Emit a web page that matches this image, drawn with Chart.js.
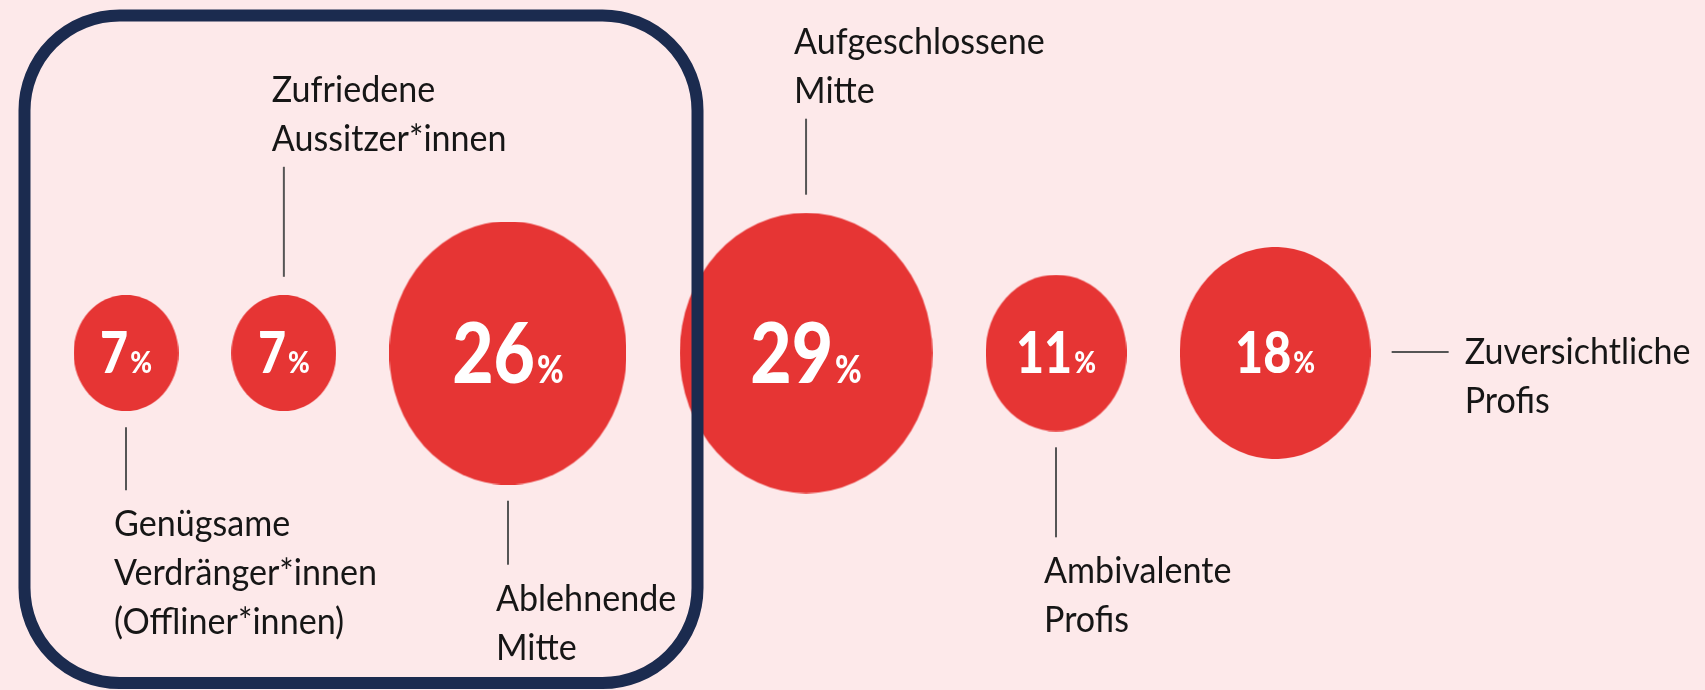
<!DOCTYPE html>
<html>
<head>
<meta charset="utf-8">
<script src="https://cdn.jsdelivr.net/npm/chart.js@4.4.1/dist/chart.umd.min.js"></script>
<style>
  html, body { margin: 0; padding: 0; background: #fde9ea; }
  #wrap { width: 1705px; height: 690px; }
</style>
</head>
<body>
<div id="wrap"><canvas id="chart" width="1705" height="690"></canvas></div>
<script>
const categories = [
  ['Genügsame', 'Verdränger*innen', '(Offliner*innen)'],
  ['Zufriedene', 'Aussitzer*innen'],
  ['Ablehnende', 'Mitte'],
  ['Aufgeschlossene', 'Mitte'],
  ['Ambivalente', 'Profis'],
  ['Zuversichtliche', 'Profis']
];
const shares = [7, 7, 26, 29, 11, 18];
const valueLabels = ['7', '7', '26', '29', '11', '18'];

// label placement around each bubble
const labelSide = ['below', 'above', 'below', 'above', 'below', 'right'];
const leaderLength = [63, 110, 64, 76, 90, 57];

const RED = '#e63534';
const NAVY = '#1b2b4f';
const INK = '#161616';
const STRETCH = 1.11; // bubbles are slightly taller than wide
const FONT = 'Lato, "Liberation Sans", sans-serif';

const radiusOf = (v) => 27 * Math.sqrt(v) - 19;

// pack the bubbles side by side with an even gap
const points = [];
shares.forEach((v, i) => {
  const r = radiusOf(v);
  let x = 126;
  if (i > 0) {
    const prev = points[i - 1];
    x = prev.x + prev.r + 53 + r;
  }
  points.push({ x, y: 0, r });
});

const ellipseCache = {};
function ellipseFor(r) {
  const key = r.toFixed(2);
  if (!ellipseCache[key]) {
    const rx = r;
    const ry = r * STRETCH;
    const c = document.createElement('canvas');
    c.width = Math.round(rx * 2);
    c.height = Math.round(ry * 2);
    const g = c.getContext('2d');
    g.fillStyle = RED;
    g.beginPath();
    g.ellipse(c.width / 2, c.height / 2, rx, ry, 0, 0, Math.PI * 2);
    g.fill();
    ellipseCache[key] = c;
  }
  return ellipseCache[key];
}

function drawScaled(ctx, text, x, y, sx) {
  ctx.save();
  ctx.translate(x, y);
  ctx.scale(sx, 1);
  ctx.fillText(text, 0, 0);
  ctx.restore();
}

function drawValue(ctx, cx, cy, text, big) {
  const digitSize = big ? 84 : 57;
  const pctSize = big ? 38 : 31;
  const sx = 0.85;
  ctx.fillStyle = '#ffffff';
  ctx.textAlign = 'left';
  ctx.textBaseline = 'alphabetic';
  ctx.font = `900 ${digitSize}px ${FONT}`;
  const wd = ctx.measureText(text).width * sx;
  ctx.font = `900 ${pctSize}px ${FONT}`;
  const wp = ctx.measureText('%').width * sx;
  const gap = 2;
  const left = cx - (wd + gap + wp) / 2;
  const baseline = cy + digitSize * 0.716 / 2;
  ctx.font = `900 ${digitSize}px ${FONT}`;
  drawScaled(ctx, text, left, baseline, sx);
  ctx.font = `900 ${pctSize}px ${FONT}`;
  drawScaled(ctx, '%', left + wd + gap, baseline, sx);
}

const labelsPlugin = {
  id: 'bubbleLabels',
  afterDatasetsDraw(chart) {
    const ctx = chart.ctx;
    const meta = chart.getDatasetMeta(0);
    const lineH = 49;

    ctx.save();
    ctx.font = `36px ${FONT}`;
    const textSx = 263 / ctx.measureText('Verdränger*innen').width;

    meta.data.forEach((el, i) => {
      const cx = el.x;
      const cy = el.y;
      const rx = radiusOf(shares[i]);
      const ry = rx * STRETCH;
      drawValue(ctx, cx, cy, valueLabels[i], rx > 110);

      const lines = categories[i];
      const len = leaderLength[i];
      ctx.strokeStyle = '#555555';
      ctx.lineWidth = 2;
      ctx.fillStyle = INK;
      ctx.font = `36px ${FONT}`;
      ctx.textAlign = 'left';
      ctx.textBaseline = 'alphabetic';
      ctx.beginPath();
      if (labelSide[i] === 'below') {
        const y0 = cy + ry + 16;
        ctx.moveTo(cx, y0);
        ctx.lineTo(cx, y0 + len);
        ctx.stroke();
        lines.forEach((t, k) => drawScaled(ctx, t, cx - 12, y0 + len + 46 + k * lineH, textSx));
      } else if (labelSide[i] === 'above') {
        const y0 = cy - ry - 18;
        ctx.moveTo(cx, y0);
        ctx.lineTo(cx, y0 - len);
        ctx.stroke();
        const last = y0 - len - 16;
        lines.forEach((t, k) => drawScaled(ctx, t, cx - 12, last - (lines.length - 1 - k) * lineH, textSx));
      } else {
        const x0 = cx + rx + 21;
        ctx.moveTo(x0, cy - 1);
        ctx.lineTo(x0 + len, cy - 1);
        ctx.stroke();
        lines.forEach((t, k) => drawScaled(ctx, t, x0 + len + 16, cy + 11 + k * lineH, textSx));
      }
    });

    // highlight frame around the first three groups
    const box = { left: 24.5, top: 15.5, right: 697.5, bottom: 683, radius: 95 };
    ctx.strokeStyle = NAVY;
    ctx.lineWidth = 12;
    ctx.beginPath();
    ctx.roundRect(box.left, box.top, box.right - box.left, box.bottom - box.top, box.radius);
    ctx.stroke();
    ctx.restore();
  }
};

new Chart(document.getElementById('chart'), {
  type: 'bubble',
  data: {
    datasets: [{
      data: points,
      backgroundColor: RED,
      borderWidth: 0,
      pointStyle: (c) => ellipseFor(c.raw.r),
      clip: false
    }]
  },
  options: {
    responsive: false,
    animation: false,
    events: [],
    layout: { autoPadding: false, padding: { top: 16, left: 0, right: 0, bottom: 0 } },
    plugins: {
      legend: { display: false },
      tooltip: { enabled: false }
    },
    scales: {
      x: { type: 'linear', min: 0, max: 1705, display: false },
      y: { type: 'linear', min: -1, max: 1, display: false }
    }
  },
  plugins: [labelsPlugin]
});
</script>
</body>
</html>
